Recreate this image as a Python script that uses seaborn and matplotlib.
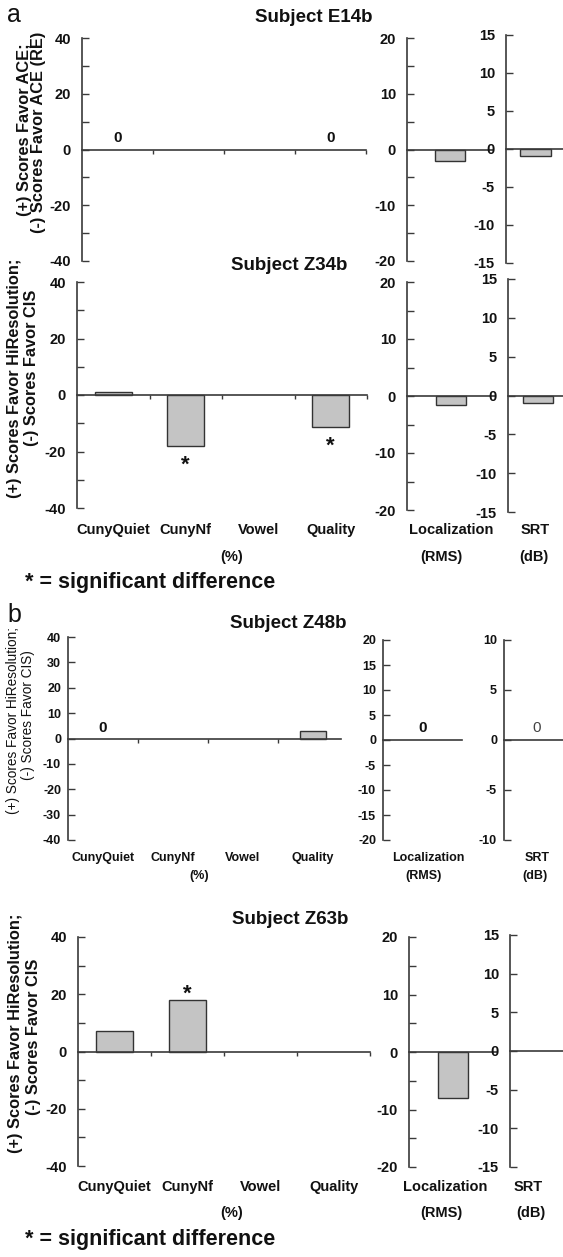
import numpy as np
import pandas as pd
import matplotlib
matplotlib.use('Agg')
import matplotlib.pyplot as plt
import seaborn as sns

sns.set_theme(style='white')
plt.rcParams['font.family'] = ['Liberation Sans', 'DejaVu Sans']

# ---------------- data ----------------
categories = ['CunyQuiet', 'CunyNf', 'Vowel', 'Quality']
side_categories = ['Localization', 'SRT']
side_units = ['(RMS)', '(dB)']
main_unit = '(%)'

subjects = ['Subject E14b', 'Subject Z34b', 'Subject Z48b', 'Subject Z63b']

e14b_main = [0.0, np.nan, np.nan, 0.0]
e14b_side = [-2.0, -0.9]
z34b_main = [1.2, -18.0, np.nan, -11.5]
z34b_side = [-1.5, -1.0]
z48b_main = [0.0, np.nan, np.nan, 2.8]
z48b_side = [0.0, 0.0]
z63b_main = [7.0, 18.0, np.nan, np.nan]
z63b_side = [-8.0, 0.0]

main_values = [e14b_main, z34b_main, z48b_main, z63b_main]
side_values = [e14b_side, z34b_side, z48b_side, z63b_side]

significant = [[], ['CunyNf', 'Quality'], [], ['CunyNf']]
zero_marks_main = [['CunyQuiet', 'Quality'], [], ['CunyQuiet'], []]
zero_marks_side = [[], [], ['Localization', 'SRT'], []]

ylabel_a_top = ['(+) Scores Favor ACE;', '(-) Scores Favor ACE (RE)']
ylabel_hires = ['(+) Scores Favor HiResolution;', '(-) Scores Favor CIS']
ylabel_hires_b = ['(+) Scores Favor HiResolution;', '(-) Scores Favor CIS)']
footnote = '* = significant difference'

# ---------------- style ----------------
W, H = 563, 1257
BAR = '#c4c4c4'
EDGE = '#333333'
SPINE = '#3a3a3a'
INK = '#111111'

fig = plt.figure(figsize=(W / 100, H / 100), dpi=100)


def add_ax(x0, y0, x1, y1):
    return fig.add_axes([x0 / W, 1 - y1 / H, (x1 - x0) / W, (y1 - y0) / H])


def ftext(x, y, s, **kw):
    fig.text(x / W, 1 - y / H, s, **kw)


def hide_zero_bars(ax):
    for patch in ax.patches:
        if abs(patch.get_height()) < 1e-9:
            patch.set_linewidth(0)


def style(ax, lim, major, minor, fs, pad, xlim, xticks):
    ax.set_facecolor('none')
    ax.set_ylim(-lim, lim)
    ax.set_xlim(*xlim)
    ax.set_xlabel('')
    ax.set_ylabel('')
    ax.set_yticks(major)
    ax.set_yticklabels([str(int(v)) for v in major], fontsize=fs,
                       fontweight='bold', color=INK)
    ax.set_yticks(minor, minor=True)
    ax.tick_params(axis='y', which='both', direction='in', length=5,
                   width=1, color=SPINE, pad=pad, left=True)
    ax.set_xticks(xticks)
    ax.set_xticklabels([])
    ax.tick_params(axis='x', which='both', direction='out', length=3,
                   width=1, color=SPINE, bottom=True)
    for s in ['top', 'right']:
        ax.spines[s].set_visible(False)
    ax.spines['bottom'].set_position(('data', 0))
    for s in ['left', 'bottom']:
        ax.spines[s].set_color(SPINE)
        ax.spines[s].set_linewidth(1.2)


# per panel layout: main, mid, third boxes (pixels)
layouts = [
    dict(main=(82, 38, 366, 261), mid=(407, 38, 493, 261), third=(506, 35, 565, 263),
         third_lim=15, bw=0.51, mid_bw=0.35, third_bw=0.52, dense=False, xright=3.5,
         labels=None),
    dict(main=(77, 282, 367, 508), mid=(407, 282, 495, 510), third=(508, 279, 568, 512),
         third_lim=15, bw=0.51, mid_bw=0.34, third_bw=0.5, dense=False, xright=3.5,
         labels=dict(cat_y=530, unit_y=557, unit_x=232, side_x=[451, 535],
                     side_unit_x=[441, 534])),
    dict(main=(68, 637, 341, 840), mid=(383, 640, 462, 840), third=(504, 640, 570, 840),
         third_lim=10, bw=0.37, mid_bw=0.35, third_bw=0.45, dense=True, xright=3.4,
         labels=dict(cat_y=858, unit_y=876, unit_x=199, side_x=[428, 537],
                     side_unit_x=[424, 535])),
    dict(main=(78, 937, 370, 1166), mid=(409, 937, 497, 1167), third=(510, 935, 570, 1167),
         third_lim=15, bw=0.51, mid_bw=0.34, third_bw=0.5, dense=False, xright=3.5,
         labels=dict(cat_y=1187, unit_y=1213, unit_x=232, side_x=[445, 528],
                     side_unit_x=[441, 531])),
]

for p, lay in enumerate(layouts):
    dense = lay['dense']
    fs = 9 if dense else 10.5
    cfs = 9 if dense else 10.5
    # ---- main axes ----
    ax = add_ax(*lay['main'])
    df = pd.DataFrame({'test': categories, 'diff': main_values[p]}).dropna()
    sns.barplot(data=df, x='test', y='diff', order=categories, color=BAR,
                edgecolor=EDGE, linewidth=1, width=lay['bw'], errorbar=None,
                saturation=1, ax=ax)
    hide_zero_bars(ax)
    if dense:
        major = [40, 30, 20, 10, 0, -10, -20, -30, -40]
        minor = []
    else:
        major = [40, 20, 0, -20, -40]
        minor = [30, 10, -10, -30]
    xt = [0.5, 1.5, 2.5] + ([3.5] if lay['xright'] >= 3.5 else [])
    style(ax, 40, major, minor, fs, 5 if dense else 8, (-0.5, lay['xright']), xt)

    for cat in significant[p]:
        i = categories.index(cat)
        v = main_values[p][i]
        off = -19 if v < 0 else 6
        ax.annotate('*', xy=(i, v), xytext=(0, off), textcoords='offset pixels',
                    ha='center', va='center', fontsize=16, fontweight='bold',
                    color=INK)
    for cat in zero_marks_main[p]:
        i = categories.index(cat)
        ax.annotate('0', xy=(i, 0), xytext=(0, 7), textcoords='offset pixels',
                    ha='center', va='baseline', fontsize=11, fontweight='bold',
                    color=INK)

    if lay['labels'] is not None:
        L = lay['labels']
        for i, cat in enumerate(categories):
            ax.annotate(cat, xy=(i, 0), xycoords=('data', 'axes fraction'),
                        xytext=(0, -(L['cat_y'] - lay['main'][3])),
                        textcoords='offset pixels', ha='center', va='center',
                        fontsize=cfs, fontweight='bold', color=INK)
        ftext(L['unit_x'], L['unit_y'], main_unit, ha='center', va='center',
              fontsize=cfs, fontweight='bold', color=INK)

    # ---- side axes ----
    boxes = [lay['mid'], lay['third']]
    lims = [20, lay['third_lim']]
    bws = [lay['mid_bw'], lay['third_bw']]
    for j in range(2):
        sax = add_ax(*boxes[j])
        sdf = pd.DataFrame({'test': [side_categories[j]], 'diff': [side_values[p][j]]})
        sns.barplot(data=sdf, x='test', y='diff', color=BAR, edgecolor=EDGE,
                    linewidth=1, width=bws[j], errorbar=None, saturation=1, ax=sax)
        hide_zero_bars(sax)
        lim = lims[j]
        if j == 0:
            if dense:
                smaj = [20, 15, 10, 5, 0, -5, -10, -15, -20]
                smin = []
            else:
                smaj = [20, 10, 0, -10, -20]
                smin = [15, 5, -5, -15]
        else:
            smaj = list(range(lim, -lim - 1, -5))
            smin = []
        style(sax, lim, smaj, smin, fs, 5 if dense else 8, (-0.5, 0.5), [])
        if side_categories[j] in zero_marks_side[p]:
            sax.annotate('0', xy=(0, 0), xytext=(0, 8), textcoords='offset pixels',
                         ha='center', va='baseline', fontsize=11,
                         fontweight='bold' if j == 0 else 'normal',
                         color=INK if j == 0 else '#444444')
        if lay['labels'] is not None:
            L = lay['labels']
            ftext(L['side_x'][j], L['cat_y'], side_categories[j], ha='center',
                  va='center', fontsize=cfs, fontweight='bold', color=INK)
            ftext(L['side_unit_x'][j], L['unit_y'], side_units[j], ha='center',
                  va='center', fontsize=cfs, fontweight='bold', color=INK)

# ---------------- titles, letters, labels ----------------
title_pos = [(314, 17), (289, 266), (288, 624), (290, 920)]
for t, (x, y) in zip(subjects, title_pos):
    ftext(x, y, t, ha='center', va='center', fontsize=13.5, fontweight='bold',
          color=INK)

ftext(14, 15, 'a', ha='center', va='center', fontsize=18, color=INK)
ftext(14, 615, 'b', ha='center', va='center', fontsize=18, color=INK)

ylabels = [
    (ylabel_a_top, [(25, 130), (39, 132)], 11.8, 'bold'),
    (ylabel_hires, [(15, 378), (32, 368)], 11.8, 'bold'),
    (ylabel_hires_b, [(13, 721), (28, 715)], 9.8, 'normal'),
    (ylabel_hires, [(16, 1033), (34, 1037)], 11.8, 'bold'),
]
for lines, pos, size, wt in ylabels:
    for s, (x, y) in zip(lines, pos):
        ftext(x, y, s, rotation=90, ha='center', va='center', fontsize=size,
              fontweight=wt, color=INK)

ftext(25, 582, footnote, ha='left', va='center', fontsize=15.5, fontweight='bold',
      color=INK)
ftext(25, 1240, footnote, ha='left', va='center', fontsize=15.5, fontweight='bold',
      color=INK)

fig.savefig('out.png', dpi=100)
